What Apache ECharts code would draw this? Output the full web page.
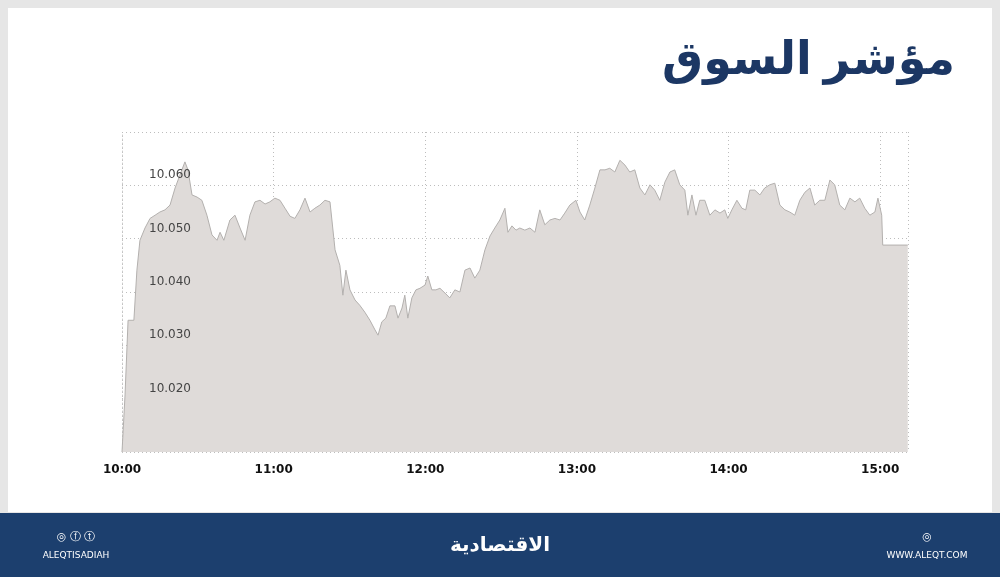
<!DOCTYPE html>
<html>
<head>
<meta charset="utf-8">
<script src="https://cdn.jsdelivr.net/npm/echarts@6/dist/echarts.min.js"></script>
<style>
  html, body { margin: 0; padding: 0; background: #e6e6e6; }
  #main { width: 1000px; height: 577px; }
</style>
</head>
<body>
<div id="main"></div>
<script>
// minutes after 10:00
var minutes = [0,1.2,2.4,4.7,5.9,7.1,9.1,11.1,13.1,15,17,19,21,22.9,24.9,26.1,27.7,29.7,31.6,33.6,35.6,37.6,38.8,40.3,42.7,44.7,46.7,48.7,50.6,52.6,54.6,56.6,58.5,60.5,62.5,64.5,66.5,68.4,70.4,72.4,74.4,76.3,78.3,80.3,82.3,84.3,86.2,87.4,88.6,90.2,92.2,94.1,96.1,98.1,100.1,101.3,102.8,104.4,106,108,109.2,110.8,111.9,113.1,114.7,116.3,117.9,119.9,121,122.6,124.2,125.8,127.8,129.7,131.7,133.7,135.7,137.7,139.6,141.6,143.6,145.6,147.5,149.5,151.5,152.7,154.3,155.9,157.4,159.4,161.4,163.4,165.3,167.3,169.3,171.3,173.3,175.2,177.2,179.6,181.2,183.1,185.1,187.1,189.1,191.1,193,195,197,199,200.9,202.9,204.9,206.9,208.9,210.8,212.8,214.8,216.8,218.7,220.7,222.7,223.9,225.5,227.1,228.6,230.6,232.6,234.6,236.6,238.5,239.7,241.3,243.3,245.3,246.8,248.4,250.4,252.4,254.3,256.3,258.3,260.3,262.3,264.2,266.2,268.2,270.2,272.2,274.1,276.1,278.1,280.1,282,284,286,288,290,291.9,293.9,295.9,297.9,299.1,300.6,301,310.9];
var values = [10.010,10.0207,10.0347,10.0347,10.0441,10.0497,10.052,10.0538,10.0544,10.055,10.0554,10.0563,10.0595,10.0619,10.0644,10.0629,10.0582,10.0578,10.0572,10.0544,10.0507,10.0497,10.0512,10.0497,10.0535,10.0544,10.052,10.0497,10.0544,10.0569,10.0572,10.0565,10.0569,10.0576,10.0572,10.0557,10.0542,10.0538,10.0554,10.0576,10.055,10.0557,10.0563,10.0572,10.0569,10.0479,10.045,10.0394,10.0441,10.0404,10.0385,10.0375,10.0362,10.0347,10.0329,10.0319,10.0344,10.0351,10.0374,10.0374,10.0351,10.037,10.0394,10.0351,10.0389,10.0404,10.0407,10.0413,10.043,10.0404,10.0404,10.0407,10.0398,10.0389,10.0404,10.04,10.0441,10.0445,10.0426,10.0441,10.0479,10.0505,10.052,10.0535,10.0557,10.0512,10.0524,10.0516,10.052,10.0516,10.052,10.0512,10.0554,10.0526,10.0535,10.0538,10.0535,10.0548,10.0563,10.0572,10.055,10.0535,10.0563,10.0595,10.0629,10.0629,10.0632,10.0625,10.0647,10.0638,10.0625,10.0629,10.0595,10.0582,10.0601,10.0591,10.0572,10.0606,10.0625,10.0629,10.0601,10.0591,10.0544,10.0582,10.0544,10.0572,10.0572,10.0544,10.0554,10.0548,10.0554,10.0538,10.0554,10.0572,10.0557,10.0554,10.0591,10.0591,10.0582,10.0595,10.0601,10.0604,10.0563,10.0554,10.055,10.0544,10.0572,10.0587,10.0595,10.0563,10.0572,10.0572,10.061,10.0601,10.0563,10.0554,10.0576,10.0569,10.0576,10.0557,10.0544,10.055,10.0576,10.0544,10.0488,10.0488];
var hourLabels = ['10:00','11:00','12:00','13:00','14:00','15:00'];
var yTicks = [10.02, 10.03, 10.04, 10.05, 10.06];

var points = minutes.map(function (m, i) { return [m, values[i]]; });

var baseGraphic = [
  { type: 'rect', shape: { x: 8, y: 8, width: 984, height: 504 }, style: { fill: '#ffffff' }, z: -10 },
  { type: 'text', right: 45, top: 38,
    style: { text: 'مؤشر السوق', font: 'bold 46px "Noto Sans", "DejaVu Sans", sans-serif', fill: '#1c3764', textAlign: 'right' } },
  { type: 'rect', shape: { x: 0, y: 513, width: 1000, height: 64 }, style: { fill: '#1c3f6e' } },
  { type: 'text', x: 500, y: 545,
    style: { text: 'الاقتصادية', font: 'bold 20px "Noto Sans", "DejaVu Sans", sans-serif', fill: '#ffffff', textAlign: 'center', textVerticalAlign: 'middle' } },
  { type: 'text', x: 76, y: 556,
    style: { text: 'ALEQTISADIAH', font: '9px "DejaVu Sans", sans-serif', fill: '#ffffff', textAlign: 'center', textVerticalAlign: 'middle' } },
  { type: 'text', x: 76, y: 537,
    style: { text: '◎ ⓕ ⓣ', font: '11px "DejaVu Sans", sans-serif', fill: '#ffffff', textAlign: 'center', textVerticalAlign: 'middle' } },
  { type: 'text', x: 927, y: 556,
    style: { text: 'WWW.ALEQT.COM', font: '9px "DejaVu Sans", sans-serif', fill: '#ffffff', textAlign: 'center', textVerticalAlign: 'middle' } },
  { type: 'text', x: 927, y: 537,
    style: { text: '◎', font: '11px "DejaVu Sans", sans-serif', fill: '#ffffff', textAlign: 'center', textVerticalAlign: 'middle' } }
];

var chart = echarts.init(document.getElementById('main'));
chart.setOption({
  animation: false,
  grid: { left: 122, right: 92, top: 132, bottom: 125 },
  graphic: baseGraphic,
  xAxis: {
    type: 'value', min: 0, max: 311, interval: 60,
    axisLine: { show: false }, axisTick: { show: false },
    axisLabel: {
      margin: 12, color: '#111', fontWeight: 'bold', fontSize: 12, fontFamily: 'DejaVu Sans',
      formatter: function (v) { return hourLabels[v / 60] || ''; }
    },
    splitLine: { show: true, lineStyle: { color: '#bdbdbd', type: [1, 3] } }
  },
  yAxis: {
    type: 'value', min: 10.01, max: 10.07, interval: 0.01,
    axisLine: { show: true, lineStyle: { color: '#cccccc', type: [1, 3] } }, axisTick: { show: false },
    axisLabel: { show: false },
    splitLine: { show: true, lineStyle: { color: '#bdbdbd', type: [1, 3] } }
  },
  series: [{
    type: 'line', data: points, symbol: 'none',
    lineStyle: { color: '#b3b0ae', width: 1 },
    areaStyle: { color: '#dfdbd9', opacity: 1 }
  }]
});

// y labels placed through the axis scale, inside the plot
var labelGraphic = yTicks.map(function (v) {
  var y = chart.convertToPixel({ yAxisIndex: 0 }, v);
  return { type: 'text', x: 170, y: y - 4, z: 10,
    style: { text: v.toFixed(3), font: '12px "DejaVu Sans", sans-serif', fill: '#444', textAlign: 'center', textVerticalAlign: 'bottom' } };
});
chart.setOption({ graphic: baseGraphic.concat(labelGraphic) });
</script>
</body>
</html>
